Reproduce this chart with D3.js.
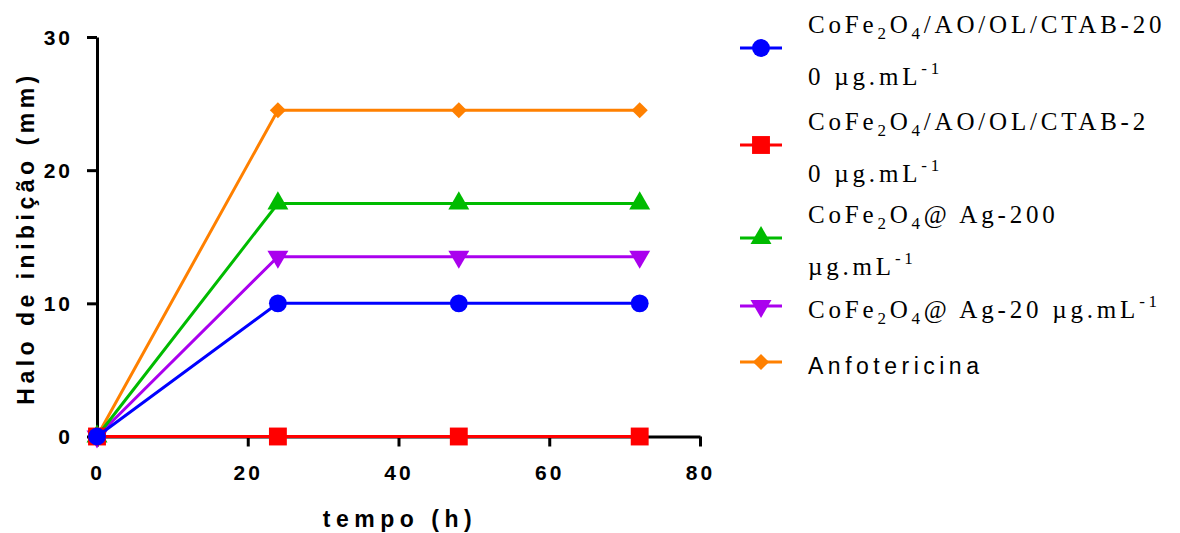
<!DOCTYPE html>
<html>
<head>
<meta charset="utf-8">
<script src="https://cdn.jsdelivr.net/npm/d3@7"></script>
<style>
  body { margin: 0; background: #fff; }
  .tick text { font-family: "Liberation Sans", Arial, sans-serif; font-weight: bold; font-size: 21px; letter-spacing: 3px; }
</style>
</head>
<body>
<svg id="chart" width="1180" height="533"></svg>
<script>
// ---------------- data ----------------
var tempo = [0, 24, 48, 72];

var seriesNames = ["CoFe2O4/AO/OL/CTAB-200", "CoFe2O4/AO/OL/CTAB-20", "CoFe2O4@Ag-200", "CoFe2O4@Ag-20", "Anfotericina"];
var haloCtab200 = [0, 10, 10, 10];
var haloCtab20  = [0, 0, 0, 0];
var haloAg200   = [0, 17.5, 17.5, 17.5];
var haloAg20    = [0, 13.5, 13.5, 13.5];
var haloAnfo    = [0, 24.5, 24.5, 24.5];

// legend text, {_x} = subscript, {^x} = superscript
var legendLines = [
  ["CoFe{_2}O{_4}/AO/OL/CTAB-20", "0  µg.mL{^-1}"],
  ["CoFe{_2}O{_4}/AO/OL/CTAB-2", "0  µg.mL{^-1}"],
  ["CoFe{_2}O{_4}@ Ag-200", "µg.mL{^-1}"],
  ["CoFe{_2}O{_4}@ Ag-20 µg.mL{^-1}"],
  ["Anfotericina"]
];

var xTicks = [0, 20, 40, 60, 80];
var yTicks = [0, 10, 20, 30];

// ---------------- styles ----------------
var colors = ["#0000ff", "#ff0000", "#00bb00", "#aa00ee", "#ff8000"];
var symbols = [d3.symbolCircle, d3.symbolSquare, d3.symbolTriangle, d3.symbolTriangle, d3.symbolSquare];
var symSize = [250, 320, 190, 190, 130];
var symRotate = [0, 0, 0, 180, 45];
var allValues = [haloCtab200, haloCtab20, haloAg200, haloAg20, haloAnfo];

var svg = d3.select('#chart');

var x = d3.scaleLinear().domain([0, 80]).range([97, 700]);
var y = d3.scaleLinear().domain([0, 30]).range([436.5, 37]);

// axes
var xAxis = svg.append('g')
  .attr('transform', 'translate(0,' + y(0) + ')')
  .call(d3.axisBottom(x).tickValues(xTicks).tickSize(10).tickSizeOuter(0).tickPadding(19));
var yAxis = svg.append('g')
  .attr('transform', 'translate(' + x(0) + ',0)')
  .call(d3.axisLeft(y).tickValues(yTicks).tickSize(10).tickSizeOuter(0).tickPadding(14));

[xAxis, yAxis].forEach(function (a) {
  a.select('.domain').attr('stroke', '#000').attr('stroke-width', 3);
  a.selectAll('.tick line').attr('stroke', '#000').attr('stroke-width', 3);
  a.selectAll('.tick text').attr('fill', '#000');
});
yAxis.selectAll('.tick text').attr('dy', '0.35em');

// axis titles
svg.append('text')
  .attr('x', 400).attr('y', 527)
  .attr('text-anchor', 'middle')
  .style('font-family', '"Liberation Sans", Arial, sans-serif')
  .style('font-weight', 'bold').style('font-size', '23px').style('letter-spacing', '5.5px')
  .text('tempo (h)');

svg.append('text')
  .attr('transform', 'translate(34,238) rotate(-90)')
  .attr('text-anchor', 'middle')
  .style('font-family', '"Liberation Sans", Arial, sans-serif')
  .style('font-weight', 'bold').style('font-size', '23px').style('letter-spacing', '4.5px')
  .text('Halo de inibição (mm)');

// series, drawn so that the blue one ends on top
var line = d3.line().x(function (d) { return x(d.t); }).y(function (d) { return y(d.v); });
var drawOrder = [4, 3, 2, 1, 0];

drawOrder.forEach(function (i) {
  var pts = tempo.map(function (t, k) { return { t: t, v: allValues[i][k] }; });
  var g = svg.append('g').attr('class', 'series');
  g.append('path')
    .attr('d', line(pts))
    .attr('fill', 'none')
    .attr('stroke', colors[i])
    .attr('stroke-width', 3);
  g.selectAll('path.mark')
    .data(pts)
    .enter()
    .append('path')
    .attr('class', 'mark')
    .attr('d', d3.symbol().type(symbols[i]).size(symSize[i]))
    .attr('transform', function (d) { return 'translate(' + x(d.t) + ',' + y(d.v) + ') rotate(' + symRotate[i] + ')'; })
    .attr('fill', colors[i]);
});

// ---------------- legend ----------------
var legendMarkY = [48, 145, 238, 306, 362];

function addRichText(sel, str) {
  var parts = str.split(/(\{[_^][^}]*\})/);
  var shift = 0;
  parts.forEach(function (p) {
    if (!p) return;
    var m = p.match(/^\{([_^])([^}]*)\}$/);
    if (m) {
      var dy = m[1] === '_' ? 6 : -11;
      sel.append('tspan').attr('dy', dy - shift).style('font-size', '17px').text(m[2]);
      shift = dy;
    } else {
      sel.append('tspan').attr('dy', -shift).text(p);
      shift = 0;
    }
  });
}

seriesNames.forEach(function (name, i) {
  var g = svg.append('g').attr('class', 'legend-item');
  var my = legendMarkY[i];
  g.append('line')
    .attr('x1', 740).attr('x2', 782)
    .attr('y1', my).attr('y2', my)
    .attr('stroke', colors[i]).attr('stroke-width', 3);
  g.append('path')
    .attr('d', d3.symbol().type(symbols[i]).size(symSize[i]))
    .attr('transform', 'translate(761,' + my + ') rotate(' + symRotate[i] + ')')
    .attr('fill', colors[i]);

  var lines = legendLines[i];
  var baselines = lines.length === 2 ? [my - 15, my + 37] : [my + 12];
  var isSans = i === 4;
  lines.forEach(function (txt, k) {
    var t = g.append('text')
      .attr('x', 808).attr('y', baselines[k])
      .attr('fill', '#000')
      .style('font-family', isSans ? '"Liberation Sans", Arial, sans-serif' : '"Liberation Serif", "Times New Roman", serif')
      .style('font-size', isSans ? '23px' : '25px')
      .style('letter-spacing', isSans ? '4.5px' : '3.8px');
    addRichText(t, txt);
  });
});
</script>
</body>
</html>
